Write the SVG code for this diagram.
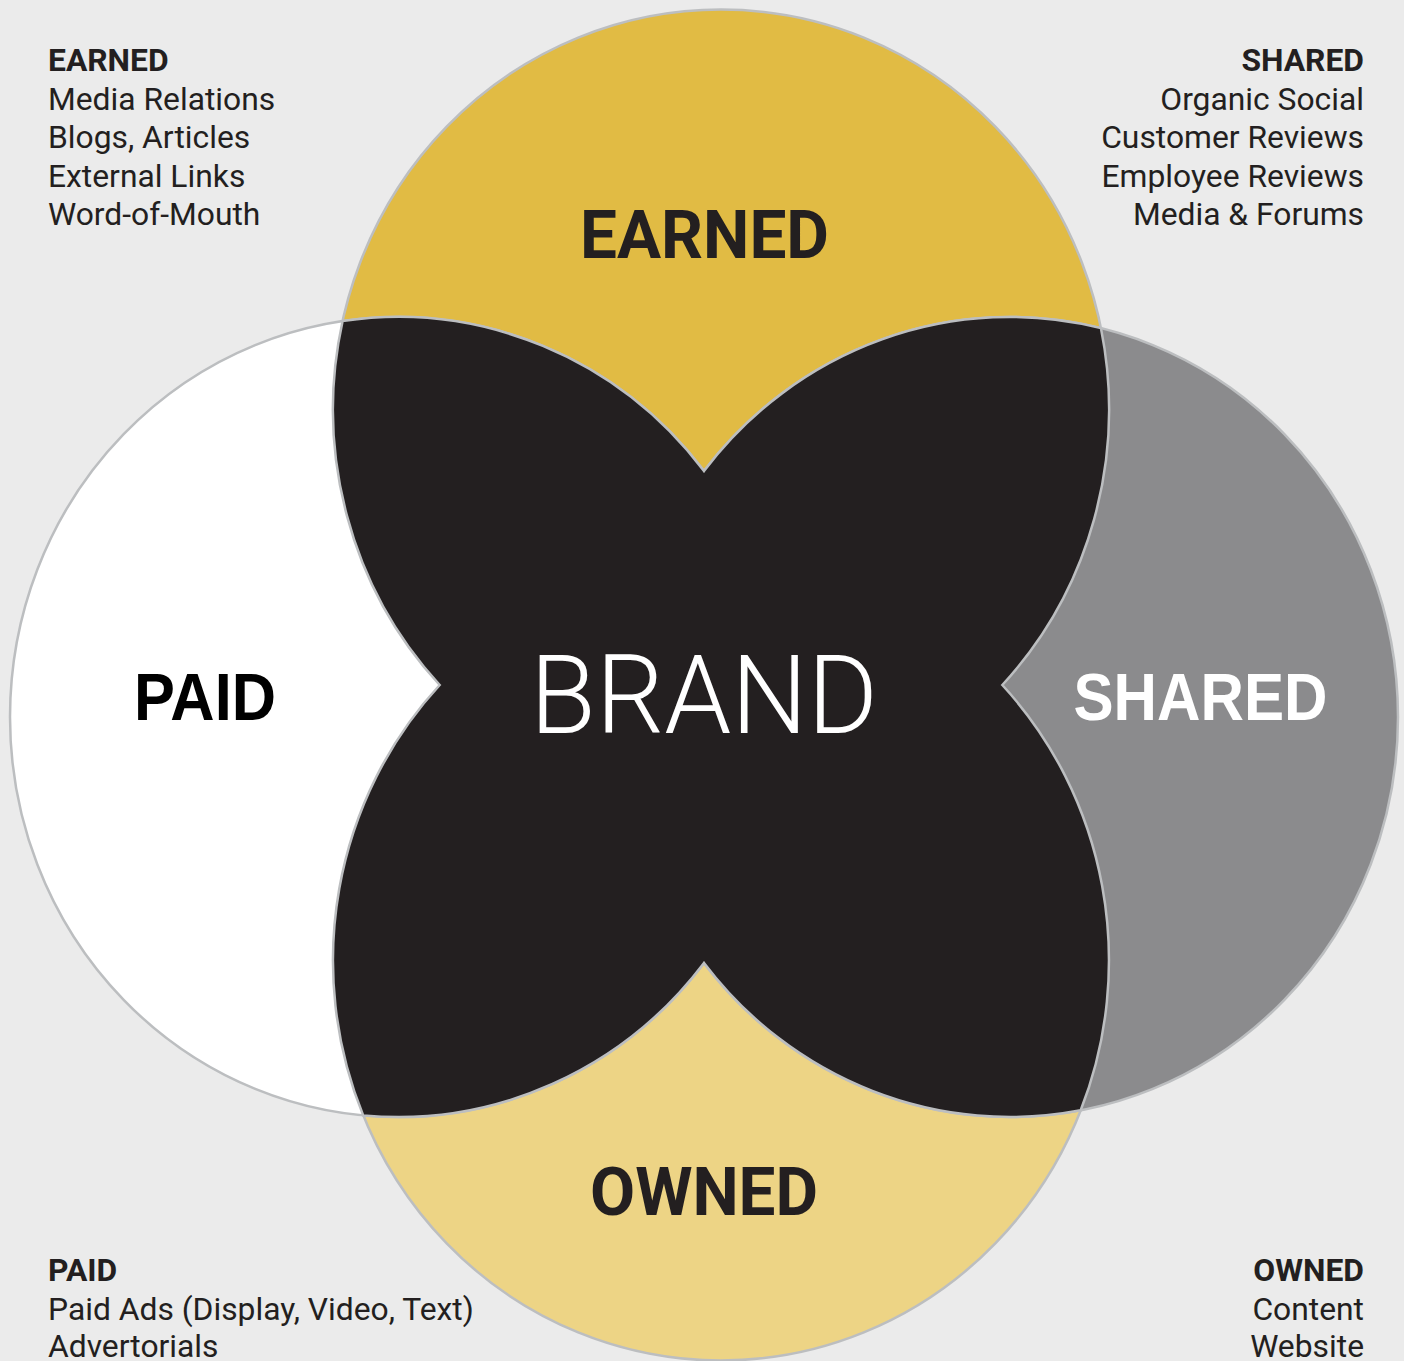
<svg xmlns="http://www.w3.org/2000/svg" width="1404" height="1361" viewBox="0 0 1404 1361">
<style>
.ring{stroke:#BCBEC0;stroke-width:2.5}
.big{font-family:Roboto,"Liberation Sans",sans-serif;font-weight:700;font-size:67px;fill:#231F20;text-anchor:middle}
.wide{font-family:"Liberation Sans",Arial,sans-serif;font-weight:700;font-size:67px;text-anchor:middle}
.list{font-family:Roboto,"Liberation Sans",sans-serif;font-size:31.8px;fill:#231F20}
.head{font-weight:700}
</style>
<rect width="1404" height="1361" fill="#EBEBEB"/>
<g id="node-earned">
<ellipse class="ring" cx="721" cy="409.5" rx="388" ry="400" fill="#E1BB44"/>
<text class="big" x="704.5" y="258" textLength="249" lengthAdjust="spacingAndGlyphs">EARNED</text>
</g>
<g id="node-owned">
<ellipse class="ring" cx="721" cy="960.5" rx="388" ry="400" fill="#EDD485"/>
<text class="big" x="704" y="1215" textLength="228" lengthAdjust="spacingAndGlyphs">OWNED</text>
</g>
<g id="node-paid">
<ellipse class="ring" cx="398" cy="717" rx="388" ry="400" fill="#FFFFFF"/>
<text class="wide" x="205" y="720" fill="#000000" textLength="142" lengthAdjust="spacingAndGlyphs">PAID</text>
</g>
<g id="node-shared">
<ellipse class="ring" cx="1010" cy="717" rx="388" ry="400" fill="#8B8B8D"/>
<text class="wide" x="1200.5" y="720" fill="#FFFFFF" textLength="254" lengthAdjust="spacingAndGlyphs">SHARED</text>
</g>
<g id="node-brand">
<path class="ring" fill="#231F20" d="M704 471.1 A388 400 0 0 1 1100.9 328.1 A388 400 0 0 1 1002.3 685 A388 400 0 0 1 1080.7 1110.3 A388 400 0 0 1 704 962.9 A388 400 0 0 1 363.2 1115.4 A388 400 0 0 1 439.7 685 A388 400 0 0 1 342.6 321.1 A388 400 0 0 1 704 471.1 Z"/>
<text x="704" y="733" font-family="Roboto,'Liberation Sans',sans-serif" font-weight="300" font-size="110" fill="#FFFFFF" text-anchor="middle" textLength="348" lengthAdjust="spacingAndGlyphs">BRAND</text>
</g>
<g id="list-earned" class="list">
<text x="48" y="71" class="head">EARNED</text>
<text x="48" y="110">Media Relations</text>
<text x="48" y="148">Blogs, Articles</text>
<text x="48" y="187">External Links</text>
<text x="48" y="225">Word-of-Mouth</text>
</g>
<g id="list-shared" class="list" text-anchor="end">
<text x="1364" y="71" class="head">SHARED</text>
<text x="1364" y="110">Organic Social</text>
<text x="1364" y="148">Customer Reviews</text>
<text x="1364" y="187">Employee Reviews</text>
<text x="1364" y="225">Media &amp; Forums</text>
</g>
<g id="list-paid" class="list">
<text x="48" y="1281" class="head">PAID</text>
<text x="48" y="1320">Paid Ads (Display, Video, Text)</text>
<text x="48" y="1357">Advertorials</text>
</g>
<g id="list-owned" class="list" text-anchor="end">
<text x="1364" y="1281" class="head">OWNED</text>
<text x="1364" y="1320">Content</text>
<text x="1364" y="1357">Website</text>
</g>
</svg>
